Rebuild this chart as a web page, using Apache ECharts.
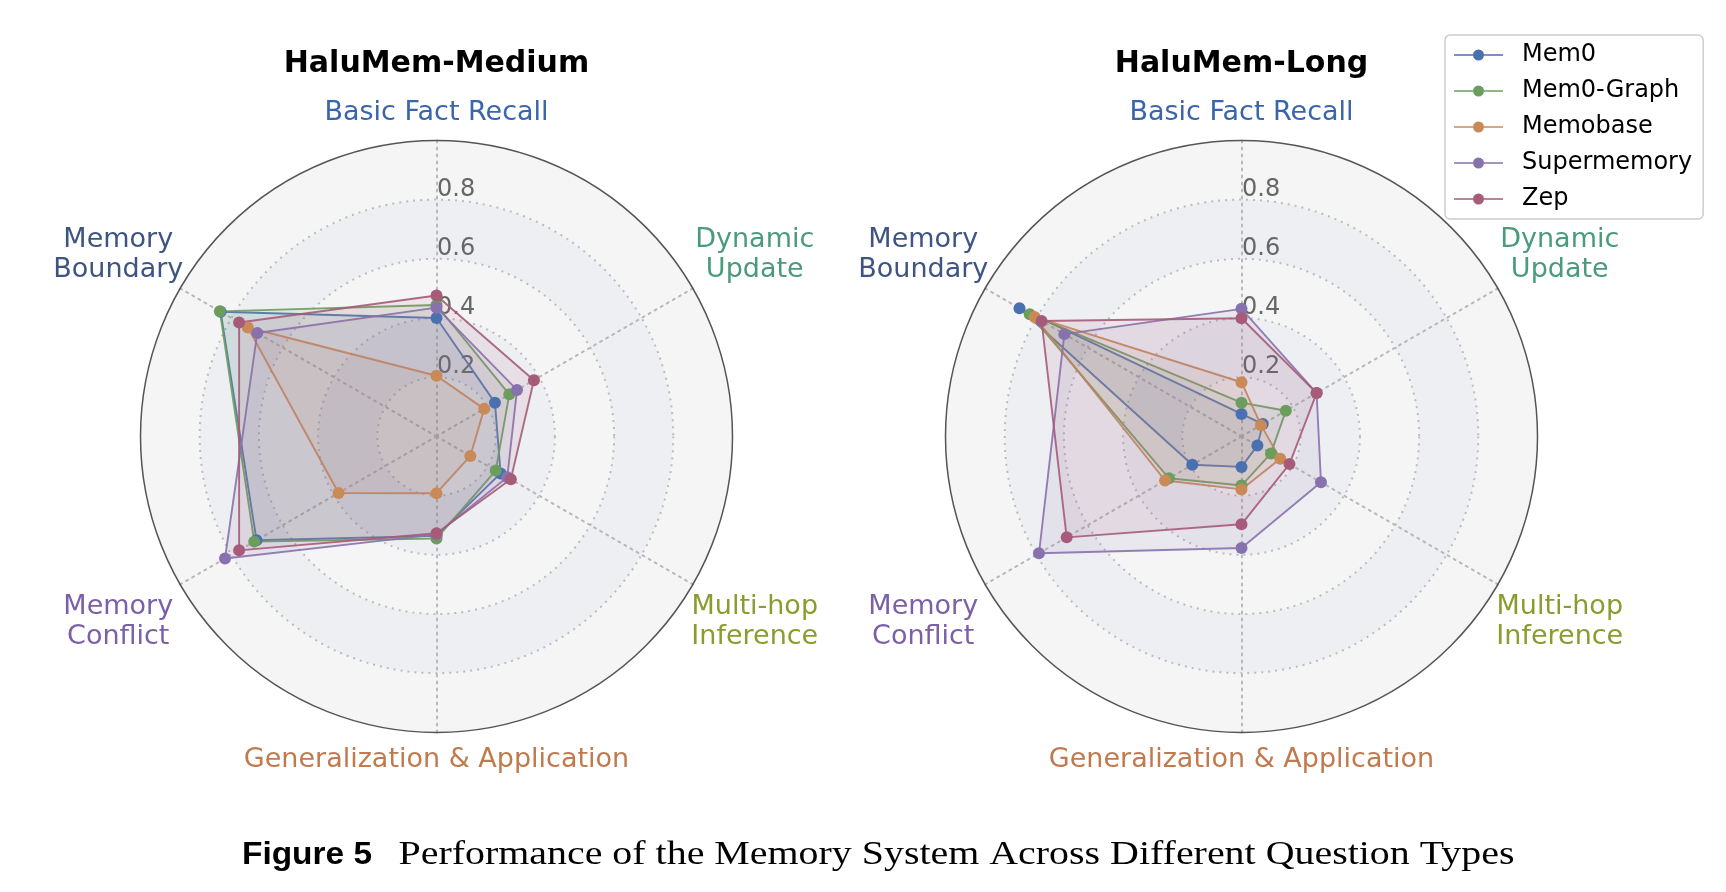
<!DOCTYPE html>
<html><head><meta charset="utf-8">
<script src="https://cdn.jsdelivr.net/npm/echarts@6/dist/echarts.min.js"></script>
<style>html,body{margin:0;padding:0;background:#fff}#c{width:1726px;height:892px}</style>
</head><body><div id="c"></div>
<script>
// ---- data (categories clockwise from the top) ----
const categories = ['Basic Fact Recall','Dynamic Update','Multi-hop Inference','Generalization & Application','Memory Conflict','Memory Boundary'];
const categoryLabels = ['Basic Fact Recall','Dynamic\nUpdate','Multi-hop\nInference','Generalization & Application','Memory\nConflict','Memory\nBoundary'];
const systems = ['Mem0','Mem0-Graph','Memobase','Supermemory','Zep'];
const panels = ['HaluMem-Medium','HaluMem-Long'];
const radialTicks = ['0.2','0.4','0.6','0.8'];
const radialTickValues = [0.2,0.4,0.6,0.8];
const captionLead = 'Figure 5';
const captionText = 'Performance of the Memory System Across Different Question Types';

const mediumMem0        = [0.400, 0.228, 0.250, 0.336, 0.702, 0.842];
const mediumMem0Graph   = [0.444, 0.284, 0.231, 0.345, 0.711, 0.845];
const mediumMemobase    = [0.205, 0.186, 0.132, 0.192, 0.382, 0.736];
const mediumSupermemory = [0.435, 0.314, 0.276, 0.331, 0.825, 0.699];
const mediumZep         = [0.476, 0.380, 0.290, 0.327, 0.770, 0.770];

const longMem0        = [0.076, 0.083, 0.062, 0.103, 0.192, 0.866];
const longMem0Graph   = [0.114, 0.173, 0.115, 0.166, 0.283, 0.826];
const longMemobase    = [0.183, 0.076, 0.151, 0.179, 0.298, 0.807];
const longSupermemory = [0.431, 0.293, 0.310, 0.377, 0.790, 0.691];
const longZep         = [0.399, 0.293, 0.187, 0.297, 0.682, 0.780];

const panelData = [
  [mediumMem0, mediumMem0Graph, mediumMemobase, mediumSupermemory, mediumZep],
  [longMem0, longMem0Graph, longMemobase, longSupermemory, longZep]
];

// ---- styling ----
const seriesColors = ['#4a70b0','#6b9e5c','#c98a58','#8872ae','#a65c78'];
const labelColors = ['#3a64ab','#4a9a7c','#8a9c2e','#c07a4e','#7b5fa8','#3e5583'];
const FONT = 'DejaVu Sans';
const centers = [436.5, 1241.5];
const CY = 436.4, R = 296;
const labelDist = [325.4, 367.5, 367.5, 322, 367.5, 367.5];
const labelDy = 2;
// ECharts radar places indicators counter-clockwise
const ecOrder = [0,5,4,3,2,1];

const chart = echarts.init(document.getElementById('c'), null, {renderer:'canvas'});

const radars = [];
panels.forEach((p, pi) => {
  radars.push({
    center: [centers[pi], CY], radius: R, shape: 'circle', startAngle: 90, splitNumber: 5, z: 0,
    indicator: ecOrder.map(i => ({name: categories[i], min: 0, max: 1})),
    axisName: {show: false},
    axisLine: {show: true, lineStyle: {color: '#b8b8b8', width: 2, type: [2, 5]}},
    axisTick: {show: false}, axisLabel: {show: false},
    splitLine: {show: true, lineStyle: {color: ['#bcbcbc','#bcbcbc','#bcbcbc','#bcbcbc','#bcbcbc','rgba(0,0,0,0)'], width: 2, type: [2, 5]}},
    splitArea: {show: true, areaStyle: {color: ['#f5f5f6', '#eeeff2']}}
  });
});
panels.forEach((p, pi) => {
  radars.push({
    center: [centers[pi], CY], radius: R, shape: 'circle', startAngle: 90, splitNumber: 1, z: 1,
    indicator: ecOrder.map(i => ({name: categories[i], min: 0, max: 1})),
    axisName: {show: false},
    axisLine: {show: false}, axisTick: {show: false}, axisLabel: {show: false},
    splitLine: {show: true, lineStyle: {color: '#555555', width: 1.5}},
    splitArea: {show: false}
  });
});

const series = [];
panels.forEach((p, pi) => {
  systems.forEach((s, si) => {
    series.push({
      type: 'radar', radarIndex: pi, name: s, z: 2,
      symbol: 'circle', symbolSize: 12,
      lineStyle: {color: seriesColors[si], width: 1.9, opacity: 0.9},
      itemStyle: {color: seriesColors[si]},
      areaStyle: {color: seriesColors[si], opacity: 0.1},
      emphasis: {disabled: true},
      data: [{value: ecOrder.map(i => panelData[pi][si][i]), name: s}]
    });
  });
});

function textWidth(font, text) {
  const c = document.createElement('canvas').getContext('2d');
  c.font = font; return c.measureText(text).width;
}

const graphics = [];
panels.forEach((p, pi) => {
  const cx = centers[pi];
  graphics.push({type: 'text', x: cx, y: 64, z: 5,
    style: {text: p, fill: '#000', font: 'bold 30px "' + FONT + '"', align: 'center', verticalAlign: 'middle'}});
  categoryLabels.forEach((lab, k) => {
    const th = (90 - 60 * k) * Math.PI / 180;
    graphics.push({type: 'text', z: 5,
      x: cx + labelDist[k] * Math.cos(th), y: CY - labelDist[k] * Math.sin(th) + labelDy,
      style: {text: lab, fill: labelColors[k], font: '27px "' + FONT + '"', lineHeight: 30, align: 'center', verticalAlign: 'middle'}});
  });
  radialTicks.forEach((t, k) => {
    graphics.push({type: 'text', z: 1, x: cx + 0.5, y: CY - radialTickValues[k] * R - 10,
      style: {text: t, fill: '#666666', font: '24px "' + FONT + '"', align: 'left', verticalAlign: 'middle'}});
  });
});
// caption: bold lead + serif text, fitted to the reference extent
const leadFont = 'bold 32px "Liberation Sans"';
const capFont = '34px "Liberation Serif"';
const leadW = textWidth(leadFont, captionLead);
const capW = textWidth(capFont, captionText);
graphics.push({type: 'text', x: 242, y: 855, z: 5, scaleX: 130 / leadW,
  style: {text: captionLead, font: leadFont, fill: '#000', align: 'left', verticalAlign: 'middle'}});
graphics.push({type: 'text', x: 398.5, y: 855, z: 5, scaleX: 1116 / capW,
  style: {text: captionText, font: capFont, fill: '#000', align: 'left', verticalAlign: 'middle'}});

chart.setOption({
  animation: false,
  backgroundColor: '#ffffff',
  radar: radars,
  series: series,
  legend: {
    data: systems, orient: 'vertical', left: 1445, top: 35, z: 10,
    backgroundColor: '#ffffff', borderColor: '#cccccc', borderWidth: 1.5, borderRadius: 5,
    padding: [8, 11, 8, 9], itemGap: 12, itemWidth: 49, itemHeight: 11,
    icon: 'path://M0,4.8H19V6.2H0Z M30,4.8H49V6.2H30Z M19,5.5A5.5,5.5 0 1,1 30,5.5A5.5,5.5 0 1,1 19,5.5Z',
    textStyle: {fontSize: 24, color: '#000', fontFamily: FONT, padding: [0, 0, 0, 14], lineHeight: 24},
    selectedMode: false
  },
  graphic: graphics
});
</script></body></html>
